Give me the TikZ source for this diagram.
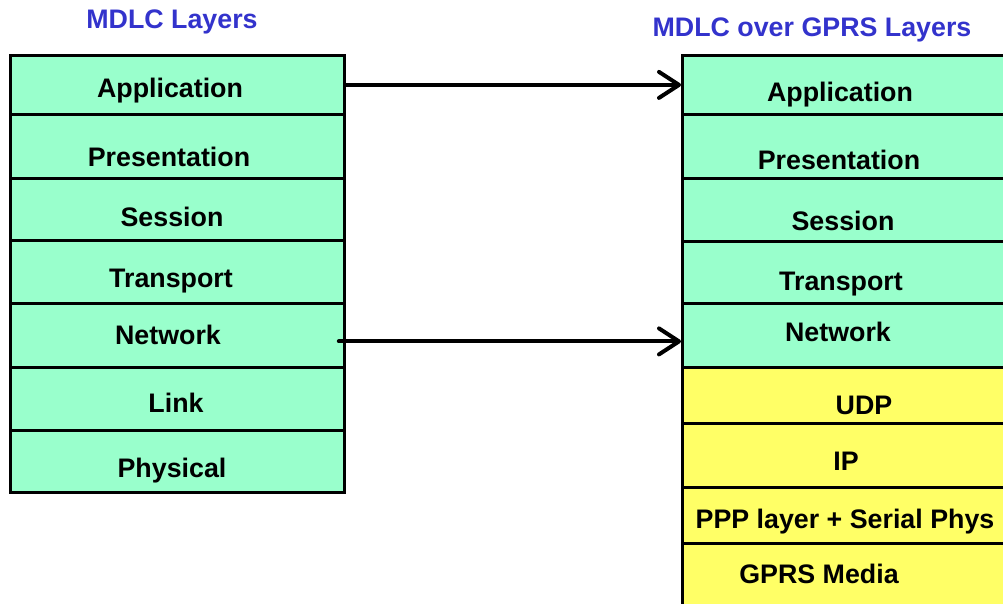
\documentclass[tikz,border=0pt]{standalone}
\usepackage{fontspec}
\setmainfont{Liberation Sans}
\usetikzlibrary{arrows.meta}
\definecolor{LayerTeal}{HTML}{99FFCC}
\definecolor{LayerYellow}{HTML}{FFFF66}
\definecolor{TitleBlue}{HTML}{3333CC}
\tikzset{
    stack/diagram/.style={
        x=1pt, y=1pt,
        font=\fontsize{26.8}{30}\selectfont\bfseries,
        line join=miter
    },
    stack/box/.style 2 args={
        draw=black, line width=2.8pt, inner sep=0pt,
        minimum width=#1, minimum height=#2, anchor=north west
    },
    stack/mdlc/.style={fill=LayerTeal},
    stack/gprs/.style={fill=LayerYellow},
    stack/name/.style={anchor=base, inner sep=0pt},
    stack/title/.style={anchor=base, inner sep=0pt, text=TitleBlue},
    stack/map/.style={
        draw=black, line width=4pt, line cap=round,
        -{Straight Barb[length=20pt, width=26pt, line width=4pt, round]}
    }
}
\begin{document}
\begin{tikzpicture}[stack/diagram]
    \useasboundingbox (0,0) rectangle (1003,603);
    % left stack
    \node[stack/title] (ltitle) at (172,574.5) {MDLC Layers};
    \node[stack/box={334}{59}, stack/mdlc] (lapp) at (9,549) {};
    \node[stack/box={334}{64}, stack/mdlc] (lpres) at (9,490) {};
    \node[stack/box={334}{62}, stack/mdlc] (lsess) at (9,426) {};
    \node[stack/box={334}{63}, stack/mdlc] (ltrans) at (9,364) {};
    \node[stack/box={334}{64}, stack/mdlc] (lnet) at (9,301) {};
    \node[stack/box={334}{63}, stack/mdlc] (llink) at (9,237) {};
    \node[stack/box={334}{62}, stack/mdlc] (lphys) at (9,174) {};
    \node[stack/name] (lappt) at (170,505.5) {Application};
    \node[stack/name] (lprest) at (169,436.5) {Presentation};
    \node[stack/name] (lsesst) at (172,376.5) {Session};
    \node[stack/name] (ltranst) at (171,315.5) {Transport};
    \node[stack/name] (lnett) at (168,258.5) {Network};
    \node[stack/name] (llinkt) at (176,190.5) {Link};
    \node[stack/name] (lphyst) at (172,125.5) {Physical};
    % right stack
    \node[stack/title] (rtitle) at (812,566.5) {MDLC over GPRS Layers};
    \node[stack/box={340}{59}, stack/mdlc] (rapp) at (681,549) {};
    \node[stack/box={340}{64}, stack/mdlc] (rpres) at (681,490) {};
    \node[stack/box={340}{63}, stack/mdlc] (rsess) at (681,426) {};
    \node[stack/box={340}{62}, stack/mdlc] (rtrans) at (681,363) {};
    \node[stack/box={340}{64}, stack/mdlc] (rnet) at (681,301) {};
    \node[stack/box={340}{56}, stack/gprs] (rudp) at (681,237) {};
    \node[stack/box={340}{64}, stack/gprs] (rip) at (681,181) {};
    \node[stack/box={340}{56}, stack/gprs] (rppp) at (681,117) {};
    \node[stack/box={340}{75}, stack/gprs] (rmedia) at (681,61) {};
    \node[stack/name] (rappt) at (840,501.5) {Application};
    \node[stack/name] (rprest) at (839,433.5) {Presentation};
    \node[stack/name] (rsesst) at (843,372.5) {Session};
    \node[stack/name] (rtranst) at (841,312.5) {Transport};
    \node[stack/name] (rnett) at (838,261.5) {Network};
    \node[stack/name] (rudpt) at (864,188.5) {UDP};
    \node[stack/name] (ript) at (846,132.5) {IP};
    \node[stack/name] (rpppt) at (845,74.5) {PPP layer + Serial Phys};
    \node[stack/name] (rmediat) at (819,19.5) {GPRS Media};
    % mappings
    \draw[stack/map] (lapp.east) -- (rapp.west);
    \draw[stack/map] ([shift={(-7,-6)}]lnet.east) -- ([yshift=-6]rnet.west);
\end{tikzpicture}
\end{document}
